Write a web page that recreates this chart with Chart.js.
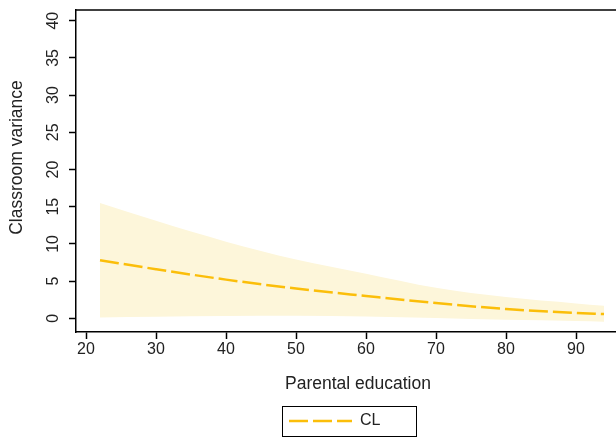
<!DOCTYPE html>
<html>
<head>
<meta charset="utf-8">
<script src="https://cdn.jsdelivr.net/npm/chart.js@4/dist/chart.umd.min.js"></script>
<style>
  html, body { margin: 0; padding: 0; background: #fff; overflow: hidden; }
</style>
</head>
<body>
<!-- canvas is a bit wider than the window: the plot frame runs off the right edge like the original -->
<canvas id="chart" width="640" height="439"></canvas>
<script>
/* =================================================
  Data
==================================================== */

const parentalEducation = [22, 30, 40, 50, 60, 70, 80, 90, 94];
const clVariance = [7.8, 6.6, 5.2, 4.0, 3.0, 2.05, 1.25, 0.72, 0.58];
const upperBound = [15.5, 13.1, 10.3, 7.9, 6.0, 4.1, 2.85, 2.0, 1.7];
const lowerBound = [0.1, 0.2, 0.3, 0.35, 0.25, 0.05, -0.2, -0.35, -0.45];

const xTicks = [20, 30, 40, 50, 60, 70, 80, 90];
const yTicks = [0, 5, 10, 15, 20, 25, 30, 35, 40];

const lineColor = '#FBBE0A';
const bandColor = '#FDF6DA';
const textColor = '#222';

Chart.defaults.font.family = '"Liberation Sans", Arial, sans-serif';
Chart.defaults.color = textColor;

const toPoints = values => parentalEducation.map((x, i) => ({ x: x, y: values[i] }));

/* =================================================
  Frame, legend box and y title
==================================================== */

const framePlugin = {
  id: 'frame',
  afterLayout(chart) {
    // push the legend item over to where it sits in the original
    const legend = chart.legend;
    legend.left = chart.chartArea.left + 213 - legend.options.labels.padding;
  },
  afterDraw(chart) {
    const { ctx, chartArea } = chart;
    ctx.save();
    ctx.strokeStyle = '#000';
    ctx.lineWidth = 1.5;
    ctx.beginPath();
    ctx.moveTo(chartArea.left, chartArea.top);
    ctx.lineTo(chartArea.right, chartArea.top);
    ctx.stroke();

    const hb = chart.legend.legendHitBoxes[0];
    ctx.lineWidth = 1;
    ctx.strokeRect(Math.round(hb.left - 7) + 0.5, Math.round(hb.top + hb.height / 2 - 15) + 0.5, 134, 30);

    ctx.fillStyle = textColor;
    ctx.font = '17.5px "Liberation Sans", Arial, sans-serif';
    ctx.textAlign = 'center';
    ctx.textBaseline = 'middle';
    ctx.translate(17, (chartArea.top + chartArea.bottom) / 2 - 13.5);
    ctx.rotate(-Math.PI / 2);
    ctx.fillText('Classroom variance', 0, 0);
    ctx.restore();
  }
};

/* =================================================
  Chart
==================================================== */

const ctx = document.getElementById('chart');

new Chart(ctx, {
  type: 'line',
  data: {
    datasets: [{
      label: 'CL',
      data: toPoints(clVariance),
      borderColor: lineColor,
      backgroundColor: lineColor,
      borderWidth: 2.5,
      borderDash: [19, 5],
      pointRadius: 0,
      fill: false,
      cubicInterpolationMode: 'monotone'
    }, {
      label: 'upper',
      data: toPoints(upperBound),
      borderWidth: 0,
      pointRadius: 0,
      backgroundColor: bandColor,
      fill: '+1',
      cubicInterpolationMode: 'monotone'
    }, {
      label: 'lower',
      data: toPoints(lowerBound),
      borderWidth: 0,
      pointRadius: 0,
      fill: false,
      cubicInterpolationMode: 'monotone'
    }]
  },
  options: {
    responsive: false,
    animation: false,
    events: [],
    layout: {
      autoPadding: false,
      padding: { top: 10, left: 0, right: 0, bottom: 0 }
    },
    scales: {
      x: {
        type: 'linear',
        min: 18.57,
        max: 99.14,
        afterBuildTicks: scale => { scale.ticks = xTicks.map(v => ({ value: v })); },
        afterFit: scale => { scale.height = 71; scale.paddingLeft = 0; scale.paddingRight = 0; },
        ticks: { font: { size: 16 }, padding: 1, maxRotation: 0, autoSkip: false, color: textColor },
        grid: { drawOnChartArea: false, tickLength: 7, tickColor: '#000', tickWidth: 1.5 },
        border: { color: '#000', width: 1.5 },
        title: {
          display: true,
          text: 'Parental education',
          font: { size: 17.5 },
          color: textColor,
          padding: { top: 0, bottom: 8 }
        }
      },
      y: {
        type: 'linear',
        min: -1.84,
        max: 41.44,
        afterBuildTicks: scale => { scale.ticks = yTicks.map(v => ({ value: v })); },
        afterFit: scale => { scale.width = 76; scale.paddingTop = 0; scale.paddingBottom = 0; },
        ticks: {
          font: { size: 16 },
          minRotation: 90,
          maxRotation: 90,
          crossAlign: 'center',
          padding: 6.5,
          autoSkip: false,
          color: textColor
        },
        grid: { drawOnChartArea: false, tickLength: 7, tickColor: '#000', tickWidth: 1.5 },
        border: { color: '#000', width: 1.5 }
      }
    },
    plugins: {
      tooltip: { enabled: false },
      legend: {
        position: 'bottom',
        align: 'start',
        labels: {
          filter: item => item.datasetIndex === 0,
          // point-style items take the point's style, so put the dataset's dash back on
          generateLabels: chart => Chart.defaults.plugins.legend.labels.generateLabels(chart).map(item => {
            const ds = chart.data.datasets[item.datasetIndex];
            return Object.assign(item, {
              lineDash: ds.borderDash,
              lineWidth: ds.borderWidth,
              strokeStyle: ds.borderColor
            });
          }),
          usePointStyle: true,
          pointStyle: 'line',
          pointStyleWidth: 63,
          padding: 10,
          color: textColor,
          font: { size: 16 }
        }
      }
    }
  },
  plugins: [framePlugin]
});
</script>
</body>
</html>
